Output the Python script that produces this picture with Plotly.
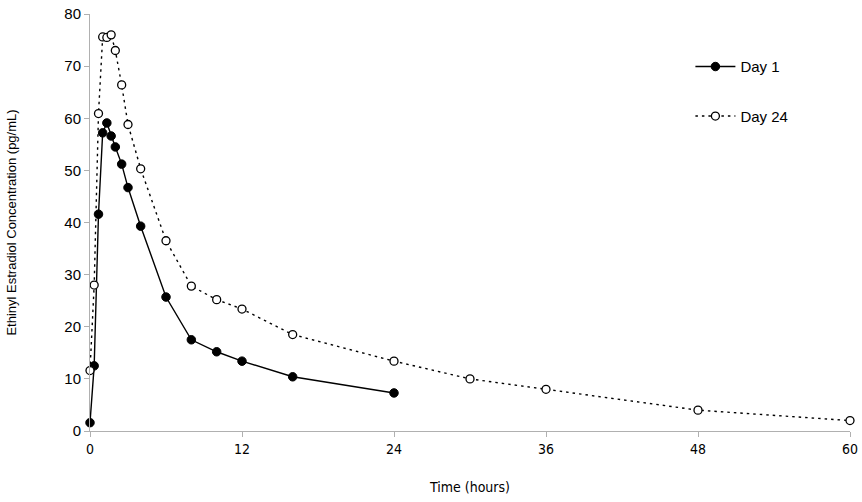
import plotly.graph_objects as go

time_day1 = [0, 0.33, 0.67, 1, 1.33, 1.67, 2, 2.5, 3, 4, 6, 8, 10, 12, 16, 24]
conc_day1 = [1.6, 12.5, 41.6, 57.2, 59.1, 56.6, 54.5, 51.2, 46.7, 39.3, 25.7, 17.5, 15.2, 13.4, 10.4, 7.3]

time_day24 = [0, 0.33, 0.67, 1, 1.33, 1.67, 2, 2.5, 3, 4, 6, 8, 10, 12, 16, 24, 30, 36, 48, 60]
conc_day24 = [11.6, 28.0, 60.9, 75.6, 75.5, 76.0, 73.0, 66.4, 58.8, 50.3, 36.5, 27.8, 25.2, 23.4, 18.5, 13.4, 10.0, 8.0, 4.0, 2.0]

x_ticks = [0, 12, 24, 36, 48, 60]
y_ticks = [0, 10, 20, 30, 40, 50, 60, 70, 80]

fig = go.Figure()
fig.add_trace(go.Scatter(
    x=time_day1, y=conc_day1, mode="lines+markers", name="Day 1",
    legendgroup="a",
    line=dict(color="black", width=1.4),
    marker=dict(symbol="circle", size=8.5, color="black", line=dict(color="black", width=1)),
    cliponaxis=False,
))
fig.add_trace(go.Scatter(
    x=time_day24, y=conc_day24, mode="lines+markers", name="Day 24",
    legendgroup="b",
    line=dict(color="black", width=1.4, dash="2.5px,4px"),
    marker=dict(symbol="circle", size=8, color="white", line=dict(color="black", width=1.3)),
    cliponaxis=False,
))

axis_color = "#b0b0b0"
narrow = "DejaVu Sans Condensed, Liberation Sans Narrow, Arial Narrow, Liberation Sans, sans-serif"
fig.update_layout(
    width=862, height=502,
    margin=dict(l=90, r=12, t=14, b=71),
    paper_bgcolor="white", plot_bgcolor="white",
    font=dict(family="Liberation Sans, Arial, sans-serif", color="black", size=14),
    showlegend=True,
    legend=dict(x=0.79, y=0.913, xanchor="left", yanchor="top", itemwidth=40,
                font=dict(size=15), tracegroupgap=27, bgcolor="rgba(0,0,0,0)"),
    xaxis=dict(range=[0, 60], tickvals=x_ticks, ticktext=[str(v) for v in x_ticks],
               automargin=False,
               showgrid=False, zeroline=False, showline=True, linecolor=axis_color, linewidth=1,
               ticks="outside", ticklen=5, tickcolor=axis_color,
               tickfont=dict(family=narrow, size=14),
               title=dict(text="Time (hours)", standoff=26,
                          font=dict(family=narrow, size=14))),
    yaxis=dict(range=[0, 80], tickvals=y_ticks,
               automargin=False,
               showgrid=False, zeroline=False, showline=True, linecolor=axis_color, linewidth=1,
               ticks="outside", ticklen=5, tickcolor=axis_color,
               tickfont=dict(size=15),
               title=dict(text="Ethinyl Estradiol Concentration (pg/mL)", standoff=44, font=dict(size=13))),
)

fig.write_html("out.html", config={"displayModeBar": False},
               post_script="document.body.style.margin='0';")
